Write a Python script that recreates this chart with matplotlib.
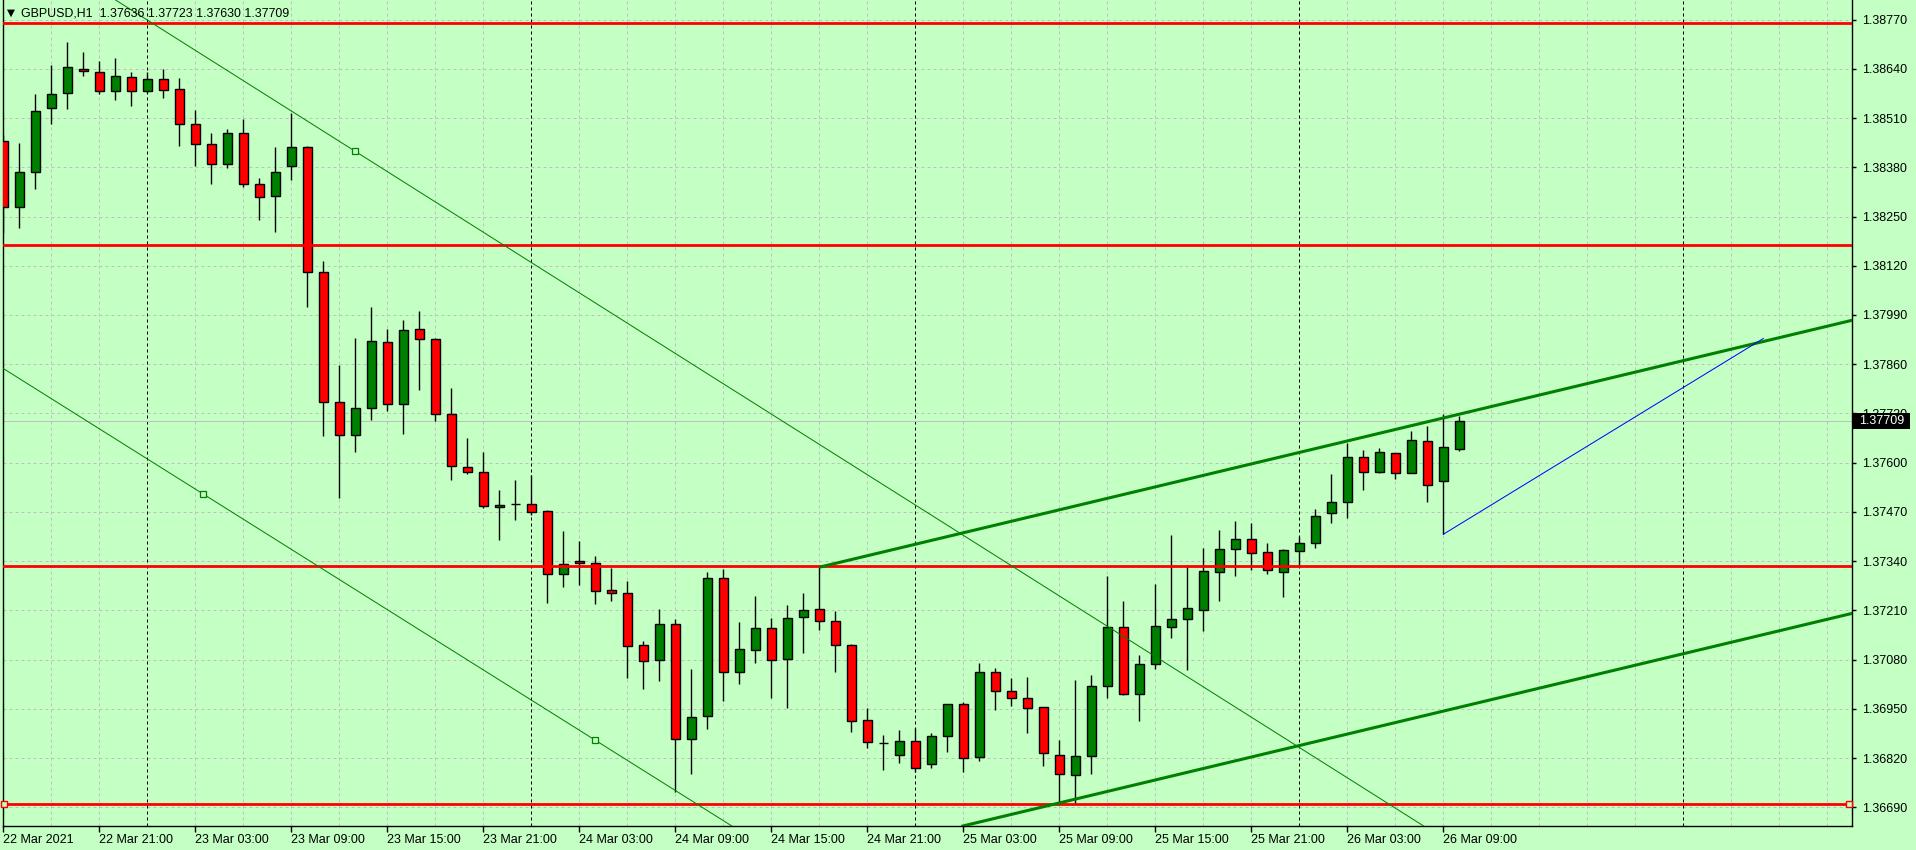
import matplotlib
matplotlib.use('Agg')
import matplotlib.pyplot as plt
from matplotlib.patches import Rectangle

# ---------------- data ----------------
symbol = "GBPUSD,H1"
opens = [1.38449, 1.38274, 1.38368, 1.38536, 1.38575, 1.38639, 1.38631, 1.38581, 1.38618, 1.38581,
         1.38612, 1.38586, 1.38494, 1.38441, 1.38388, 1.38470, 1.38335, 1.38303, 1.38383, 1.38433,
         1.38103, 1.37759, 1.37672, 1.37744, 1.37918, 1.37754, 1.37952, 1.37926, 1.37728, 1.37588,
         1.37575, 1.37482, 1.37490, 1.37490, 1.37472, 1.37305, 1.37340, 1.37334, 1.37263, 1.37255,
         1.37118, 1.37078, 1.37173, 1.36870, 1.36930, 1.37295, 1.37047, 1.37105, 1.37163, 1.37081,
         1.37192, 1.37213, 1.37181, 1.37118, 1.36920, 1.36859, 1.36827, 1.36864, 1.36804, 1.36877,
         1.36962, 1.36822, 1.37047, 1.36996, 1.36978, 1.36954, 1.36827, 1.36775, 1.36825, 1.37010,
         1.37165, 1.36988, 1.37068, 1.37165, 1.37186, 1.37210, 1.37311, 1.37371, 1.37398, 1.37363,
         1.37311, 1.37366, 1.37387, 1.37466, 1.37495, 1.37614, 1.37575, 1.37625, 1.37572, 1.37656,
         1.37551, 1.37636]
highs = [1.38465, 1.38443, 1.38574, 1.38650, 1.38711, 1.38684, 1.38661, 1.38669, 1.38632, 1.38632,
         1.38640, 1.38616, 1.38531, 1.38470, 1.38481, 1.38508, 1.38352, 1.38434, 1.38523, 1.38436,
         1.38133, 1.37858, 1.37928, 1.38010, 1.37953, 1.37976, 1.38000, 1.37930, 1.37797, 1.37664,
         1.37627, 1.37528, 1.37554, 1.37567, 1.37474, 1.37420, 1.37393, 1.37354, 1.37321, 1.37288,
         1.37128, 1.37213, 1.37186, 1.37054, 1.37311, 1.37319, 1.37179, 1.37247, 1.37189, 1.37223,
         1.37255, 1.37324, 1.37208, 1.37120, 1.36951, 1.36880, 1.36894, 1.36899, 1.36885, 1.36964,
         1.36967, 1.37070, 1.37057, 1.37031, 1.37033, 1.36956, 1.36867, 1.37025, 1.37039, 1.37301,
         1.37234, 1.37091, 1.37279, 1.37409, 1.37331, 1.37374, 1.37422, 1.37446, 1.37440, 1.37387,
         1.37372, 1.37406, 1.37477, 1.37570, 1.37651, 1.37634, 1.37638, 1.37625, 1.37683, 1.37696,
         1.37728, 1.37723]
lows = [1.38206, 1.38221, 1.38323, 1.38495, 1.38535, 1.38622, 1.38573, 1.38558, 1.38543, 1.38575,
        1.38564, 1.38437, 1.38384, 1.38337, 1.38379, 1.38329, 1.38242, 1.38208, 1.38347, 1.38012,
        1.37671, 1.37508, 1.37629, 1.37714, 1.37737, 1.37677, 1.37793, 1.37711, 1.37555, 1.37569,
        1.37480, 1.37397, 1.37449, 1.37461, 1.37230, 1.37273, 1.37278, 1.37228, 1.37236, 1.37032,
        1.37003, 1.37024, 1.36731, 1.36779, 1.36896, 1.36972, 1.37015, 1.37070, 1.36979, 1.36953,
        1.37098, 1.37159, 1.37048, 1.36890, 1.36846, 1.36789, 1.36808, 1.36782, 1.36793, 1.36835,
        1.36782, 1.36811, 1.36946, 1.36957, 1.36885, 1.36798, 1.36700, 1.36700, 1.36777, 1.36978,
        1.36986, 1.36917, 1.37054, 1.37136, 1.37052, 1.37156, 1.37236, 1.37302, 1.37317, 1.37305,
        1.37246, 1.37324, 1.37374, 1.37442, 1.37455, 1.37527, 1.37572, 1.37558, 1.37572, 1.37495,
        1.37411, 1.37630]
closes = [1.38274, 1.38367, 1.38530, 1.38573, 1.38644, 1.38633, 1.38581, 1.38620, 1.38581, 1.38612,
          1.38583, 1.38494, 1.38442, 1.38388, 1.38470, 1.38335, 1.38301, 1.38367, 1.38433, 1.38103,
          1.37759, 1.37672, 1.37744, 1.37921, 1.37754, 1.37950, 1.37926, 1.37728, 1.37590, 1.37575,
          1.37485, 1.37487, 1.37490, 1.37469, 1.37305, 1.37332, 1.37334, 1.37260, 1.37255, 1.37115,
          1.37076, 1.37173, 1.36870, 1.36928, 1.37295, 1.37047, 1.37107, 1.37163, 1.37078, 1.37189,
          1.37210, 1.37181, 1.37118, 1.36917, 1.36862, 1.36859, 1.36864, 1.36793, 1.36877, 1.36962,
          1.36819, 1.37047, 1.36996, 1.36978, 1.36951, 1.36833, 1.36777, 1.36825, 1.37010, 1.37165,
          1.36988, 1.37068, 1.37168, 1.37186, 1.37215, 1.37313, 1.37371, 1.37398, 1.37361, 1.37316,
          1.37369, 1.37387, 1.37458, 1.37495, 1.37614, 1.37575, 1.37627, 1.37572, 1.37659, 1.37540,
          1.37641, 1.37709]

first_bar_hour = 15          # first visible bar: 22 Mar 15:00
label_step = 6
time_labels = ["22 Mar 2021", "22 Mar 21:00", "23 Mar 03:00", "23 Mar 09:00", "23 Mar 15:00",
               "23 Mar 21:00", "24 Mar 03:00", "24 Mar 09:00", "24 Mar 15:00", "24 Mar 21:00",
               "25 Mar 03:00", "25 Mar 09:00", "25 Mar 15:00", "25 Mar 21:00", "26 Mar 03:00",
               "26 Mar 09:00"]
price_ticks = [1.36690, 1.36820, 1.36950, 1.37080, 1.37210, 1.37340, 1.37470, 1.37600, 1.37730,
               1.37860, 1.37990, 1.38120, 1.38250, 1.38380, 1.38510, 1.38640, 1.38770]
bid_price = 1.37709

red_levels = [1.38760, 1.38176, 1.37328, 1.36699]
channel_line1 = [(7.42, 1.38811), (22.0, 1.38422)]
channel_line2 = [(12.5, 1.37517), (37.0, 1.36867)]
up_line = [(51, 1.37324), (90, 1.37718)]
up_line_parallel = [(51, 1.36550), (90, 1.36944)]
blue_line = [(90, 1.37411), (110, 1.37928)]

# ---------------- figure ----------------
BG = '#C4FFC4'
W, H = 1916, 850
fig = plt.figure(figsize=(W / 100, H / 100), dpi=100, facecolor=BG)
ax = fig.add_axes([2.7 / W, 24 / H, (1852 - 2.7) / W, 826 / H])
ax.set_facecolor(BG)
XMAX = 115.54
ax.set_xlim(-0.04, XMAX)
ax.set_ylim(1.366406, 1.388218)

px = 0.72  # 1 pixel in points

# grid
for k in range(0, 116, 3):
    ax.axvline(k, color='#C0C0C0', lw=px, ls=(0, (3, 3)), zorder=0.5)
for p in price_ticks:
    ax.axhline(p, color='#C0C0C0', lw=px, ls=(0, (3, 3)), zorder=0.5)

# day separators
for k in range(0, 116):
    if (first_bar_hour + k) % 24 == 0:
        ax.axvline(k, color='black', lw=px, ls=(0, (3, 3)), zorder=0.6)

# bid line
ax.axhline(bid_price, color='#C0C0C0', lw=px, zorder=0.7)

# candles
bw = 0.6
for i, (o, h, l, c) in enumerate(zip(opens, highs, lows, closes)):
    ax.vlines(i, l, h, color='black', lw=1.0, zorder=2)
    col = '#008000' if c >= o else '#FF0000'
    ax.add_patch(Rectangle((i - bw / 2, min(o, c)), bw, abs(c - o), facecolor=col,
                           edgecolor='black', lw=1.0, zorder=3))

# objects
for lv in red_levels:
    ax.axhline(lv, color='#FF0000', lw=2.0, zorder=4)
ax.plot([0.05, XMAX - 0.2], [red_levels[-1]] * 2, ls='none', marker='s', ms=4.5,
        mfc=BG, mec='#FF0000', mew=1.0, zorder=5, clip_on=False)

ax.axline(channel_line1[0], channel_line1[1], color='#008000', lw=px, zorder=4)
ax.axline(channel_line2[0], channel_line2[1], color='#008000', lw=px, zorder=4)
ax.plot([channel_line1[1][0]], [channel_line1[1][1]], ls='none', marker='s', ms=4,
        mfc=BG, mec='#008000', mew=0.9, zorder=5)
ax.plot([p[0] for p in channel_line2], [p[1] for p in channel_line2], ls='none', marker='s',
        ms=4, mfc=BG, mec='#008000', mew=0.9, zorder=5)

# upper trend ray
(x1, y1), (x2, y2) = up_line
slope = (y2 - y1) / (x2 - x1)
ax.plot([x1, XMAX + 1], [y1, y1 + slope * (XMAX + 1 - x1)], color='#008000', lw=2.2, zorder=4,
        solid_capstyle='butt')
ax.axline(up_line_parallel[0], up_line_parallel[1], color='#008000', lw=2.2, zorder=4)

ax.plot([p[0] for p in blue_line], [p[1] for p in blue_line], color='#0000FF', lw=px, zorder=4)

# axes styling
for s in ['left', 'right', 'bottom']:
    ax.spines[s].set_color('black')
    ax.spines[s].set_linewidth(1.0)
ax.spines['top'].set_visible(False)

FONT = ['Liberation Sans', 'DejaVu Sans']
ax.yaxis.tick_right()
ax.set_yticks(price_ticks)
ax.set_yticklabels(['%.5f' % p for p in price_ticks], fontsize=9, family=FONT)
ax.tick_params(axis='y', direction='out', length=3, width=1, pad=4, colors='black')

xt = [i * label_step for i in range(len(time_labels))]
ax.set_xticks(xt)
ax.set_xticklabels(time_labels, fontsize=9, family=FONT, ha='left')
ax.tick_params(axis='x', direction='out', length=4, width=1, pad=2, colors='black')

# title
fig.text(6.5 / W, 1 - 13 / H, '\u25BC', fontsize=7.5, family=['DejaVu Sans'], va='center', ha='left')
fig.text(21 / W, 1 - 13 / H, '%s  %.5f %.5f %.5f %.5f' % (symbol, opens[-1], highs[-1], lows[-1], closes[-1]),
         fontsize=8.9, family=FONT, va='center', ha='left', color='black')

# bid price box
fig.patches.append(Rectangle((1853 / W, 1 - 429 / H), 57 / W, 16 / H, transform=fig.transFigure,
                             facecolor='black', edgecolor='none', zorder=10))
fig.text(1859 / W, 1 - 421 / H, '%.5f' % bid_price, fontsize=9, family=FONT, color='white',
         va='center', ha='left', zorder=11)

fig.savefig('out.png', dpi=100, facecolor=BG)
